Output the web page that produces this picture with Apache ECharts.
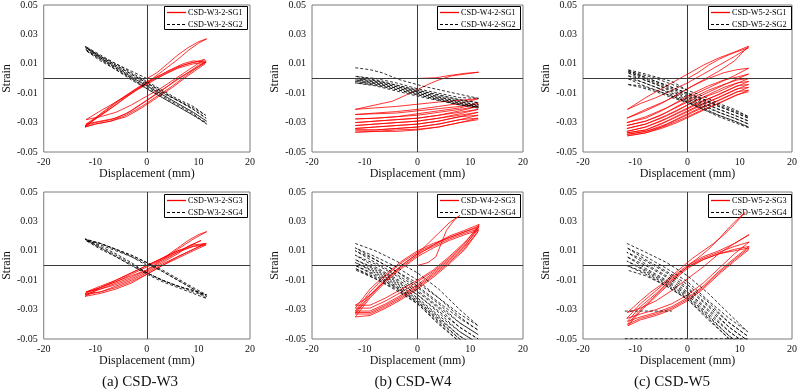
<!DOCTYPE html>
<html>
<head>
<meta charset="utf-8">
<script src="https://cdn.jsdelivr.net/npm/echarts@6/dist/echarts.min.js"></script>
<style>
html,body{margin:0;padding:0;background:#fff;}
#chart{width:800px;height:391px;}
</style>
</head>
<body>
<div id="chart"></div>
<script>
// ---------- axis ticks ----------
const xTicks = [-20, -10, 0, 10, 20];
const yTicks = [-0.05, -0.03, -0.01, 0.01, 0.03, 0.05];
const xTitle = 'Displacement (mm)';
const yTitle = 'Strain';
const captions = ['(a) CSD-W3', '(b) CSD-W4', '(c) CSD-W5'];
const seriesNames = [
  ['CSD-W3-2-SG1', 'CSD-W3-2-SG2'],
  ['CSD-W4-2-SG1', 'CSD-W4-2-SG2'],
  ['CSD-W5-2-SG1', 'CSD-W5-2-SG2'],
  ['CSD-W3-2-SG3', 'CSD-W3-2-SG4'],
  ['CSD-W4-2-SG3', 'CSD-W4-2-SG4'],
  ['CSD-W5-2-SG3', 'CSD-W5-2-SG4']
];

// ---------- data: [displacement (mm), strain] ----------
const w3sg1 = [[0,0],[2,0.004],[4,0.010],[6,0.016],[8,0.021],[10,0.025],[11.6,0.027],[10,0.024],[8,0.019],[6,0.013],[3,0.005],[0,-0.003],[-3,-0.010],[-6,-0.016],[-9,-0.022],[-11.8,-0.028],
[-9,-0.026],[-6,-0.023],[-3,-0.018],[0,-0.012],[3,-0.006],[6,0.001],[9,0.008],[11.2,0.013],
[9,0.011],[6,0.008],[3,0.003],[0,-0.002],[-3,-0.009],[-6,-0.016],[-9,-0.024],[-12,-0.033],
[-10,-0.031],[-7,-0.029],[-4,-0.025],[-1,-0.019],[2,-0.012],[5,-0.005],[8,0.003],[10,0.008],[11.5,0.012],
[9,0.011],[7,0.009],[4,0.004],[1,-0.002],[-2,-0.008],[-5,-0.015],[-8,-0.023],[-12,-0.032],
[-10,-0.030],[-7,-0.028],[-4,-0.024],[-1,-0.017],[2,-0.010],[5,-0.003],[8,0.004],[10,0.009],[11.4,0.011],
[9,0.012],[7,0.010],[4,0.005],[1,-0.001],[-2,-0.007],[-5,-0.014],[-8,-0.022],[-11.8,-0.031],
[-9,-0.029],[-6,-0.027],[-3,-0.022],[0,-0.015],[3,-0.008],[6,0.000],[9,0.006],[11.5,0.011],
[9,0.010],[6,0.007],[3,0.002],[0,-0.003],[-3,-0.010],[-6,-0.018],[-9,-0.025],[-12,-0.033],
[-10,-0.031],[-7,-0.029],[-4,-0.026],[-1,-0.020],[2,-0.013],[5,-0.006],[8,0.002],[11.3,0.010]];

const w3sg2 = [[0,0],[-3,0.005],[-6,0.010],[-9,0.015],[-11.8,0.021],
[-9,0.014],[-6,0.008],[-3,0.002],[0,-0.004],[3,-0.010],[6,-0.015],[9,-0.020],[11.4,-0.025],
[9,-0.019],[6,-0.014],[3,-0.008],[0,-0.002],[-3,0.004],[-6,0.010],[-9,0.016],[-12,0.022],
[-9,0.015],[-6,0.009],[-3,0.003],[0,-0.003],[3,-0.009],[6,-0.015],[9,-0.021],[11.5,-0.027],
[9,-0.021],[6,-0.015],[3,-0.009],[0,-0.003],[-3,0.003],[-6,0.009],[-9,0.015],[-11.9,0.021],
[-9,0.014],[-6,0.008],[-3,0.001],[0,-0.005],[3,-0.011],[6,-0.017],[9,-0.023],[11.6,-0.029],
[9,-0.023],[6,-0.017],[3,-0.011],[0,-0.005],[-3,0.001],[-6,0.007],[-9,0.014],[-12,0.020],
[-9,0.013],[-6,0.007],[-3,0.000],[0,-0.007],[3,-0.013],[6,-0.019],[9,-0.025],[11.6,-0.031],
[9,-0.024],[6,-0.018],[3,-0.012],[0,-0.006],[-3,0.000],[-6,0.006],[-9,0.013],[-11.8,0.019],
[-9,0.012],[-6,0.006],[-3,-0.001],[0,-0.007],[3,-0.013],[6,-0.019],[9,-0.025],[11.5,-0.030]];

const w4sg1 = [[0,0],[3.5,0.0005],[6,0.002],[9,0.0035],[11.6,0.0043],
[9,0.003],[6.5,0.0018],[4,-0.001],[2,-0.004],[0,-0.0075],[-2,-0.011],[-4.8,-0.0155],[-8,-0.018],[-11.8,-0.021],
[-8,-0.020],[-4,-0.019],[0,-0.0175],[4,-0.016],[8,-0.0148],[11.5,-0.0138],
[8,-0.017],[4,-0.019],[0,-0.021],[-4,-0.0225],[-8,-0.0235],[-11.8,-0.0245],
[-8,-0.024],[-4,-0.0235],[0,-0.022],[4,-0.0205],[8,-0.019],[11.5,-0.017],
[8,-0.020],[4,-0.022],[0,-0.024],[-4,-0.026],[-8,-0.027],[-11.8,-0.0275],
[-8,-0.027],[-4,-0.026],[0,-0.025],[4,-0.023],[8,-0.021],[11.5,-0.019],
[8,-0.022],[4,-0.025],[0,-0.027],[-4,-0.028],[-8,-0.029],[-11.8,-0.030],
[-8,-0.029],[-4,-0.028],[0,-0.027],[4,-0.025],[8,-0.023],[11.5,-0.021],
[8,-0.024],[4,-0.027],[0,-0.029],[-4,-0.030],[-8,-0.031],[-11.8,-0.032],
[-8,-0.031],[-4,-0.030],[0,-0.029],[4,-0.027],[8,-0.025],[11.5,-0.023],
[8,-0.026],[4,-0.029],[0,-0.031],[-4,-0.032],[-8,-0.033],[-11.8,-0.034],
[-8,-0.033],[-4,-0.032],[0,-0.031],[4,-0.029],[8,-0.026],[11.5,-0.025],
[8,-0.028],[4,-0.031],[0,-0.033],[-4,-0.034],[-8,-0.035],[-11.8,-0.035],
[-8,-0.035],[-4,-0.034],[0,-0.033],[4,-0.031],[8,-0.028],[11.5,-0.027],
[8,-0.030],[4,-0.033],[0,-0.035],[-4,-0.036],[-8,-0.036],[-11.8,-0.0365],
[-8,-0.036],[-4,-0.035],[0,-0.0345],[4,-0.033],[8,-0.030],[11.5,-0.028]];

const w4sg2 = [[-11.8,0.0073],[-9,0.006],[-6.7,0.0039],[-3.6,-0.0006],[0.9,-0.0051],[6.5,-0.0096],[11.6,-0.0135],
[8,-0.013],[4,-0.010],[0,-0.007],[-4,-0.003],[-8,0.000],[-11.8,0.0015],
[-8,-0.001],[-4,-0.0045],[0,-0.008],[4,-0.0115],[8,-0.0145],[11.6,-0.0165],
[8,-0.0145],[4,-0.011],[0,-0.008],[-4,-0.0045],[-8,-0.0015],[-11.8,0.000],
[-8,-0.002],[-4,-0.0055],[0,-0.009],[4,-0.0125],[8,-0.0155],[11.6,-0.018],
[8,-0.016],[4,-0.0125],[0,-0.009],[-4,-0.0055],[-8,-0.0025],[-11.8,-0.001],
[-8,-0.003],[-4,-0.0065],[0,-0.010],[4,-0.0135],[8,-0.0165],[11.6,-0.019],
[8,-0.017],[4,-0.0135],[0,-0.010],[-4,-0.0065],[-8,-0.0035],[-11.8,-0.002],
[-8,-0.004],[-4,-0.0075],[0,-0.011],[4,-0.0145],[8,-0.0175],[11.6,-0.0195],
[8,-0.018],[4,-0.0145],[0,-0.011],[-4,-0.0075],[-8,-0.0045],[-11.8,-0.003],
[-8,-0.005],[-4,-0.0085],[0,-0.012],[4,-0.015],[8,-0.018],[11.6,-0.0202]];

const w5sg1 = [[0,0],[2,0.004],[4,0.009],[6,0.013],[8.5,0.017],[11.7,0.021],
[9,0.015],[6,0.009],[3,0.003],[0,-0.003],[-3,-0.008],[-6,-0.013],[-9,-0.017],[-11.5,-0.021],
[-8,-0.013],[-5,-0.007],[-2,-0.001],[0,0.003],[3,0.009],[6,0.014],[9,0.018],[11.7,0.022],
[9,0.012],[6,0.005],[3,-0.001],[0,-0.007],[-4,-0.015],[-8,-0.021],[-11.6,-0.027],
[-8,-0.022],[-5,-0.017],[-2,-0.011],[1,-0.005],[4,0.000],[7,0.004],[9.5,0.006],[11.7,0.007],
[9,0.002],[6,-0.003],[3,-0.008],[0,-0.013],[-4,-0.020],[-8,-0.026],[-11.6,-0.030],
[-8,-0.027],[-5,-0.022],[-2,-0.016],[1,-0.010],[4,-0.005],[7,-0.001],[9.5,0.001],[11.7,0.003],
[9,-0.001],[6,-0.006],[3,-0.011],[0,-0.016],[-4,-0.023],[-8,-0.029],[-11.6,-0.032],
[-8,-0.029],[-5,-0.025],[-2,-0.019],[1,-0.013],[4,-0.008],[7,-0.004],[9.5,-0.001],[11.7,0.000],
[9,-0.004],[6,-0.009],[3,-0.013],[0,-0.018],[-4,-0.025],[-8,-0.031],[-11.6,-0.034],
[-8,-0.031],[-5,-0.027],[-2,-0.022],[1,-0.016],[4,-0.011],[7,-0.006],[9.5,-0.003],[11.7,-0.002],
[9,-0.006],[6,-0.011],[3,-0.015],[0,-0.020],[-4,-0.027],[-8,-0.033],[-11.6,-0.036],
[-8,-0.033],[-5,-0.029],[-2,-0.024],[1,-0.019],[4,-0.014],[7,-0.009],[9.5,-0.005],[11.7,-0.004],
[9,-0.008],[6,-0.013],[3,-0.017],[0,-0.022],[-4,-0.029],[-8,-0.035],[-11.6,-0.037],
[-8,-0.035],[-5,-0.031],[-2,-0.026],[1,-0.021],[4,-0.016],[7,-0.011],[9.5,-0.007],[11.7,-0.006],
[9,-0.010],[6,-0.015],[3,-0.019],[0,-0.024],[-4,-0.031],[-8,-0.036],[-11.6,-0.038],
[-8,-0.036],[-5,-0.033],[-2,-0.028],[1,-0.023],[4,-0.018],[7,-0.013],[9.5,-0.009],[11.7,-0.008],
[9,-0.012],[6,-0.017],[3,-0.021],[0,-0.026],[-4,-0.032],[-8,-0.037],[-11.5,-0.039],
[-8,-0.037],[-5,-0.034],[-2,-0.030],[1,-0.025],[4,-0.020],[7,-0.015],[9.5,-0.011],[11.7,-0.009]];

const w5sg2 = [[0,-0.008],[-3,-0.002],[-6,0.001],[-9,0.004],[-11.5,0.006],
[-9,0.002],[-6,-0.002],[-3,-0.006],[0,-0.010],[3,-0.014],[6,-0.018],[9,-0.022],[11.7,-0.026],
[9,-0.021],[6,-0.017],[3,-0.012],[0,-0.008],[-3,-0.004],[-6,0.000],[-9,0.003],[-11.5,0.005],
[-9,0.001],[-6,-0.003],[-3,-0.007],[0,-0.011],[3,-0.015],[6,-0.019],[9,-0.023],[11.7,-0.027],
[9,-0.023],[6,-0.019],[3,-0.014],[0,-0.010],[-3,-0.006],[-6,-0.002],[-9,0.002],[-11.5,0.004],
[-9,0.000],[-6,-0.004],[-3,-0.009],[0,-0.013],[3,-0.017],[6,-0.021],[9,-0.025],[11.7,-0.029],
[9,-0.025],[6,-0.021],[3,-0.016],[0,-0.012],[-3,-0.008],[-6,-0.004],[-9,0.000],[-11.5,0.002],
[-9,-0.002],[-6,-0.006],[-3,-0.011],[0,-0.015],[3,-0.019],[6,-0.023],[9,-0.027],[11.7,-0.031],
[9,-0.027],[6,-0.023],[3,-0.018],[0,-0.014],[-3,-0.010],[-6,-0.006],[-9,-0.002],[-11.5,0.000],
[-9,-0.004],[-6,-0.008],[-3,-0.012],[0,-0.016],[3,-0.021],[6,-0.025],[9,-0.029],[11.7,-0.033],
[9,-0.029],[6,-0.025],[3,-0.020],[0,-0.016],[-3,-0.012],[-6,-0.008],[-9,-0.005],[-11.5,-0.004],
[-9,-0.006],[-6,-0.009],[-3,-0.013],[0,-0.0165],[3,-0.021],[6,-0.026],[9,-0.030],[11.7,-0.0335]];

const w3sg3 = [[0,0],[2,0.003],[4,0.007],[6,0.012],[8,0.017],[10,0.021],[11.6,0.023],
[9,0.018],[6,0.011],[3,0.004],[0,-0.003],[-3,-0.007],[-6,-0.011],[-9,-0.015],[-11.8,-0.018],
[-9,-0.016],[-6,-0.013],[-3,-0.009],[0,-0.004],[3,0.002],[6,0.008],[8,0.013],[10.5,0.017],
[8,0.013],[5,0.007],[2,0.001],[0,-0.003],[-3,-0.008],[-6,-0.012],[-9,-0.016],[-12,-0.020],
[-9,-0.018],[-6,-0.014],[-3,-0.010],[0,-0.005],[3,0.001],[6,0.006],[9,0.011],[11.5,0.015],
[9,0.013],[6,0.009],[3,0.004],[0,-0.001],[-3,-0.006],[-6,-0.011],[-9,-0.015],[-12,-0.019],
[-9,-0.018],[-6,-0.015],[-3,-0.011],[0,-0.006],[3,0.000],[6,0.005],[9,0.010],[11.5,0.014],
[9,0.013],[6,0.010],[3,0.005],[0,0.000],[-3,-0.005],[-6,-0.010],[-9,-0.015],[-12,-0.021],
[-9,-0.019],[-6,-0.016],[-3,-0.012],[0,-0.006],[3,0.000],[6,0.006],[9,0.011],[11.5,0.015],
[9,0.014],[6,0.010],[3,0.005],[0,0.000],[-3,-0.005],[-6,-0.010],[-9,-0.014],[-11.8,-0.018]];

const w3sg4 = [[0,0],[-3,0.006],[-6,0.011],[-9,0.015],[-12,0.018],
[-9,0.013],[-6,0.008],[-3,0.002],[0,-0.005],[3,-0.010],[6,-0.014],[9,-0.017],[11.6,-0.020],
[9,-0.015],[6,-0.009],[3,-0.003],[0,0.002],[-3,0.007],[-6,0.011],[-9,0.015],[-12,0.018],
[-9,0.012],[-6,0.007],[-3,0.001],[0,-0.005],[3,-0.010],[6,-0.014],[9,-0.018],[11.6,-0.021],
[9,-0.016],[6,-0.010],[3,-0.004],[0,0.002],[-3,0.007],[-6,0.011],[-9,0.015],[-11.8,0.017],
[-9,0.012],[-6,0.006],[-3,0.000],[0,-0.006],[3,-0.011],[6,-0.015],[9,-0.019],[11.6,-0.0225],
[9,-0.016],[6,-0.010],[3,-0.004],[0,0.001],[-3,0.006],[-6,0.010],[-9,0.014],[-11.8,0.017],
[-9,0.011],[-6,0.006],[-3,0.000],[0,-0.005],[3,-0.010],[6,-0.014],[9,-0.017],[11.5,-0.020]];

const w4sg3 = [[0,0],[2,0.002],[3.5,0.006],[4.5,0.015],[5.5,0.024],[7,0.031],[8,0.034],
[6,0.029],[4,0.022],[2,0.015],[0,0.008],[-2,0.003],[-4,-0.003],[-6,-0.010],[-8,-0.017],[-10,-0.023],[-11.8,-0.027],
[-9,-0.027],[-6,-0.022],[-3,-0.016],[0,-0.010],[3,-0.003],[6,0.006],[9,0.016],[11.6,0.026],
[9,0.023],[6,0.019],[3,0.015],[0,0.010],[-3,0.003],[-6,-0.006],[-9,-0.016],[-11.8,-0.029],
[-9,-0.029],[-6,-0.024],[-3,-0.018],[0,-0.011],[3,-0.004],[6,0.005],[9,0.015],[11.7,0.028],
[9,0.024],[6,0.020],[3,0.014],[0,0.009],[-3,0.002],[-6,-0.007],[-9,-0.018],[-11.8,-0.031],
[-9,-0.031],[-6,-0.026],[-3,-0.020],[0,-0.013],[3,-0.005],[6,0.004],[9,0.014],[11.6,0.025],
[9,0.022],[6,0.018],[3,0.013],[0,0.008],[-3,0.000],[-6,-0.009],[-9,-0.020],[-11.8,-0.032],
[-9,-0.032],[-6,-0.027],[-3,-0.021],[0,-0.014],[3,-0.006],[6,0.003],[9,0.013],[11.7,0.027],
[9,0.023],[6,0.019],[3,0.014],[0,0.007],[-3,-0.001],[-6,-0.010],[-9,-0.021],[-11.8,-0.033],
[-9,-0.033],[-6,-0.028],[-3,-0.022],[0,-0.015],[3,-0.007],[6,0.002],[9,0.012],[11.6,0.024],
[9,0.021],[6,0.017],[3,0.012],[0,0.006],[-3,-0.002],[-6,-0.011],[-9,-0.022],[-11.8,-0.035],
[-9,-0.034],[-6,-0.029],[-3,-0.023],[0,-0.016],[3,-0.008],[6,0.001],[9,0.011],[11.5,0.023]];

const w4sg4 = [[-11.8,0.015],[-8,0.010],[-4,0.003],[0,-0.005],[4,-0.016],[8,-0.030],[11.5,-0.041],
[8,-0.033],[4,-0.022],[0,-0.010],[-4,-0.001],[-8,0.006],[-11.8,0.012],
[-8,0.004],[-4,-0.004],[0,-0.012],[4,-0.022],[8,-0.035],[11.5,-0.044],
[8,-0.036],[4,-0.025],[0,-0.014],[-4,-0.004],[-8,0.004],[-11.8,0.010],
[-8,0.002],[-4,-0.006],[0,-0.015],[4,-0.026],[8,-0.039],[11.5,-0.047],
[8,-0.039],[4,-0.028],[0,-0.017],[-4,-0.007],[-8,0.001],[-11.8,0.007],
[-8,-0.001],[-4,-0.009],[0,-0.018],[4,-0.029],[8,-0.042],[11.5,-0.050],
[8,-0.042],[4,-0.031],[0,-0.020],[-4,-0.010],[-8,-0.002],[-11.8,0.004],
[-8,-0.003],[-4,-0.011],[0,-0.020],[4,-0.032],[8,-0.045],[11.5,-0.053],
[8,-0.045],[4,-0.034],[0,-0.022],[-4,-0.012],[-8,-0.004],[-11.8,0.002],
[-8,-0.005],[-4,-0.013],[0,-0.023],[4,-0.035],[8,-0.048],[11.5,-0.056],
[8,-0.048],[4,-0.036],[0,-0.024],[-4,-0.014],[-8,-0.006],[-11.8,0.000],
[-8,-0.007],[-4,-0.015],[0,-0.025],[4,-0.037],[8,-0.050],[11.5,-0.058],
[8,-0.050],[4,-0.038],[0,-0.025],[-4,-0.015],[-8,-0.008],[-11.8,-0.002],
[-8,-0.009],[-4,-0.017],[0,-0.026],[4,-0.039],[8,-0.052],[11.5,-0.060],
[8,-0.052],[4,-0.040],[0,-0.026],[-4,-0.016],[-8,-0.009],[-11.8,-0.003]];

const w5sg3 = [[0,0],[2,0.005],[4,0.011],[6,0.018],[8,0.026],[10,0.033],[11,0.036],
[9,0.028],[7,0.021],[5,0.015],[3,0.010],[1,0.005],[-1,-0.001],[-3,-0.007],[-5,-0.013],[-7,-0.018],[-9,-0.024],[-11.5,-0.032],
[-9,-0.029],[-6,-0.024],[-3,-0.017],[0,-0.009],[3,-0.001],[6,0.008],[9,0.015],[11.8,0.021],
[9,0.015],[6,0.010],[3,0.006],[0,0.000],[-3,-0.008],[-6,-0.017],[-9,-0.026],[-11.6,-0.036],
[-9,-0.033],[-6,-0.030],[-3,-0.026],[0,-0.020],[3,-0.012],[6,-0.002],[9,0.008],[11.8,0.016],
[9,0.013],[6,0.009],[3,0.005],[0,-0.001],[-3,-0.009],[-6,-0.019],[-9,-0.028],[-11.5,-0.038],
[-9,-0.035],[-6,-0.032],[-3,-0.028],[0,-0.022],[3,-0.014],[6,-0.004],[9,0.005],[11.8,0.013],
[9,0.011],[6,0.008],[3,0.004],[0,-0.001],[-3,-0.010],[-6,-0.020],[-9,-0.030],[-11.5,-0.040],
[-9,-0.036],[-6,-0.033],[-3,-0.029],[0,-0.023],[3,-0.015],[6,-0.005],[9,0.004],[11.8,0.012],
[9,0.010],[6,0.008],[3,0.004],[0,-0.002],[-3,-0.011],[-6,-0.021],[-9,-0.031],[-11.4,-0.041],
[-9,-0.037],[-6,-0.034],[-3,-0.030],[0,-0.024],[3,-0.016],[6,-0.006],[9,0.003],[11.8,0.011]];

const w5sg4 = [[-11.6,0.015],[-8,0.009],[-4,0.002],[0,-0.007],[4,-0.019],[8,-0.033],[11.5,-0.045],
[8,-0.036],[4,-0.024],[0,-0.011],[-4,-0.002],[-8,0.006],[-11.6,0.012],
[-8,0.004],[-4,-0.004],[0,-0.013],[4,-0.025],[8,-0.039],[11.5,-0.048],
[8,-0.039],[4,-0.027],[0,-0.015],[-4,-0.005],[-8,0.003],[-11.6,0.009],
[-8,0.001],[-4,-0.007],[0,-0.016],[4,-0.028],[8,-0.042],[11.5,-0.051],
[8,-0.042],[4,-0.030],[0,-0.018],[-4,-0.008],[-8,0.000],[-11.6,0.006],
[-8,-0.002],[-4,-0.010],[0,-0.019],[4,-0.031],[8,-0.045],[11.5,-0.054],
[8,-0.045],[4,-0.033],[0,-0.020],[-4,-0.011],[-8,-0.003],[-11.6,0.003],
[-8,-0.004],[-4,-0.012],[0,-0.021],[4,-0.034],[8,-0.048],[11.5,-0.057],
[8,-0.048],[4,-0.035],[0,-0.022],[-4,-0.013],[-8,-0.005],[-11.6,0.000],
[-8,-0.006],[-4,-0.014],[0,-0.023],[4,-0.036],[8,-0.050],[11.5,-0.060],
[8,-0.050],[4,-0.037],[0,-0.023],[-4,-0.014],[-8,-0.007],[-11.6,-0.003]];
const w5sg4Flat1 = [[-12,-0.031],[-3,-0.031]];
const w5sg4Flat2 = [[-12,-0.0498],[11.5,-0.0498]];

const redData = [w3sg1, w4sg1, w5sg1, w3sg3, w4sg3, w5sg3];
const blackData = [w3sg2, w4sg2, w5sg2, w3sg4, w4sg4, w5sg4];

// ---------- layout ----------
const FONT = 'Liberation Serif';
const RED = '#ff0000';
const DASH = [3, 2];
const gridPos = [
  {left: 39, top: 4, width: 211, height: 148},
  {left: 312, top: 4, width: 211, height: 148},
  {left: 583, top: 4, width: 211, height: 148},
  {left: 39, top: 192, width: 211, height: 147},
  {left: 312, top: 192, width: 211, height: 147},
  {left: 583, top: 192, width: 211, height: 147}
];

const grids = [], xAxes = [], yAxes = [], series = [], graphics = [];
gridPos.forEach((g, i) => {
  grids.push(Object.assign({show: true, borderColor: '#7a7a7a', borderWidth: 1, backgroundColor: 'transparent'}, g));
  xAxes.push({
    type: 'value', gridIndex: i, min: xTicks[0], max: xTicks[xTicks.length - 1], interval: 10,
    axisLine: {show: false}, axisTick: {show: false}, splitLine: {show: false},
    axisLabel: {fontFamily: FONT, fontSize: 10, color: '#111', margin: 5},
    name: xTitle, nameLocation: 'middle', nameGap: 15,
    nameTextStyle: {fontFamily: FONT, fontSize: 12, color: '#111'}
  });
  yAxes.push({
    type: 'value', gridIndex: i, min: yTicks[0], max: yTicks[yTicks.length - 1], interval: 0.02,
    axisLine: {show: false}, axisTick: {show: false}, splitLine: {show: false},
    axisLabel: {fontFamily: FONT, fontSize: 10, color: '#111', margin: 6, formatter: v => v.toFixed(2)},
    name: yTitle, nameLocation: 'middle', nameGap: 27,
    nameTextStyle: {fontFamily: FONT, fontSize: 12, color: '#111'}
  });
  const names = seriesNames[i];
  series.push({
    name: names[0], type: 'line', xAxisIndex: i, yAxisIndex: i, data: redData[i],
    symbol: 'none', showSymbol: false, animation: false, z: 2,
    lineStyle: {color: RED, width: 0.8}, itemStyle: {color: RED},
    markLine: {
      silent: true, symbol: ['none', 'none'], animation: false, label: {show: false},
      lineStyle: {color: '#3a3a3a', width: 1, type: 'solid'},
      data: [{xAxis: 0}, {yAxis: 0}]
    }
  });
  series.push({
    name: names[1], type: 'line', xAxisIndex: i, yAxisIndex: i, data: blackData[i],
    symbol: 'none', showSymbol: false, animation: false, z: 3,
    lineStyle: {color: '#000', width: 0.8, type: DASH}, itemStyle: {color: '#000'}
  });

  // legend box (drawn as graphic, anchored to the grid's top-right corner)
  const R = g.left + g.width;
  const T = g.top;
  graphics.push({
    type: 'group', z: 100,
    children: [
      {type: 'rect', shape: {x: R - 85.5, y: T + 2.5, width: 83, height: 23},
       style: {fill: '#fff', stroke: '#000', lineWidth: 1}},
      {type: 'line', shape: {x1: R - 83, y1: T + 8.5, x2: R - 64, y2: T + 8.5},
       style: {stroke: RED, lineWidth: 1.3}},
      {type: 'line', shape: {x1: R - 83, y1: T + 20.5, x2: R - 64, y2: T + 20.5},
       style: {stroke: '#000', lineWidth: 1, lineDash: DASH}},
      {type: 'text', x: R - 62, y: T + 8.5,
       style: {text: names[0], fontFamily: FONT, fontSize: 8.2, fill: '#000', textVerticalAlign: 'middle'}},
      {type: 'text', x: R - 62, y: T + 20.5,
       style: {text: names[1], fontFamily: FONT, fontSize: 8.2, fill: '#000', textVerticalAlign: 'middle'}}
    ]
  });
});
series.push({
  name: seriesNames[5][1], type: 'line', xAxisIndex: 5, yAxisIndex: 5, data: w5sg4Flat1,
  symbol: 'none', animation: false, z: 3, lineStyle: {color: '#000', width: 0.8, type: DASH}, itemStyle: {color: '#000'}
});
series.push({
  name: seriesNames[5][1], type: 'line', xAxisIndex: 5, yAxisIndex: 5, data: w5sg4Flat2,
  symbol: 'none', animation: false, z: 3, lineStyle: {color: '#000', width: 0.8, type: DASH}, itemStyle: {color: '#000'}
});

const captionX = [140, 413, 672];
captions.forEach((c, i) => {
  graphics.push({
    type: 'text', x: captionX[i], y: 382,
    style: {text: c, fontFamily: FONT, fontSize: 15, fill: '#111', textAlign: 'center', textVerticalAlign: 'middle'}
  });
});

const chart = echarts.init(document.getElementById('chart'), null, {renderer: 'canvas'});
chart.setOption({
  animation: false,
  backgroundColor: '#fff',
  textStyle: {fontFamily: FONT},
  grid: grids, xAxis: xAxes, yAxis: yAxes, series: series, graphic: graphics
});
</script>
</body>
</html>
